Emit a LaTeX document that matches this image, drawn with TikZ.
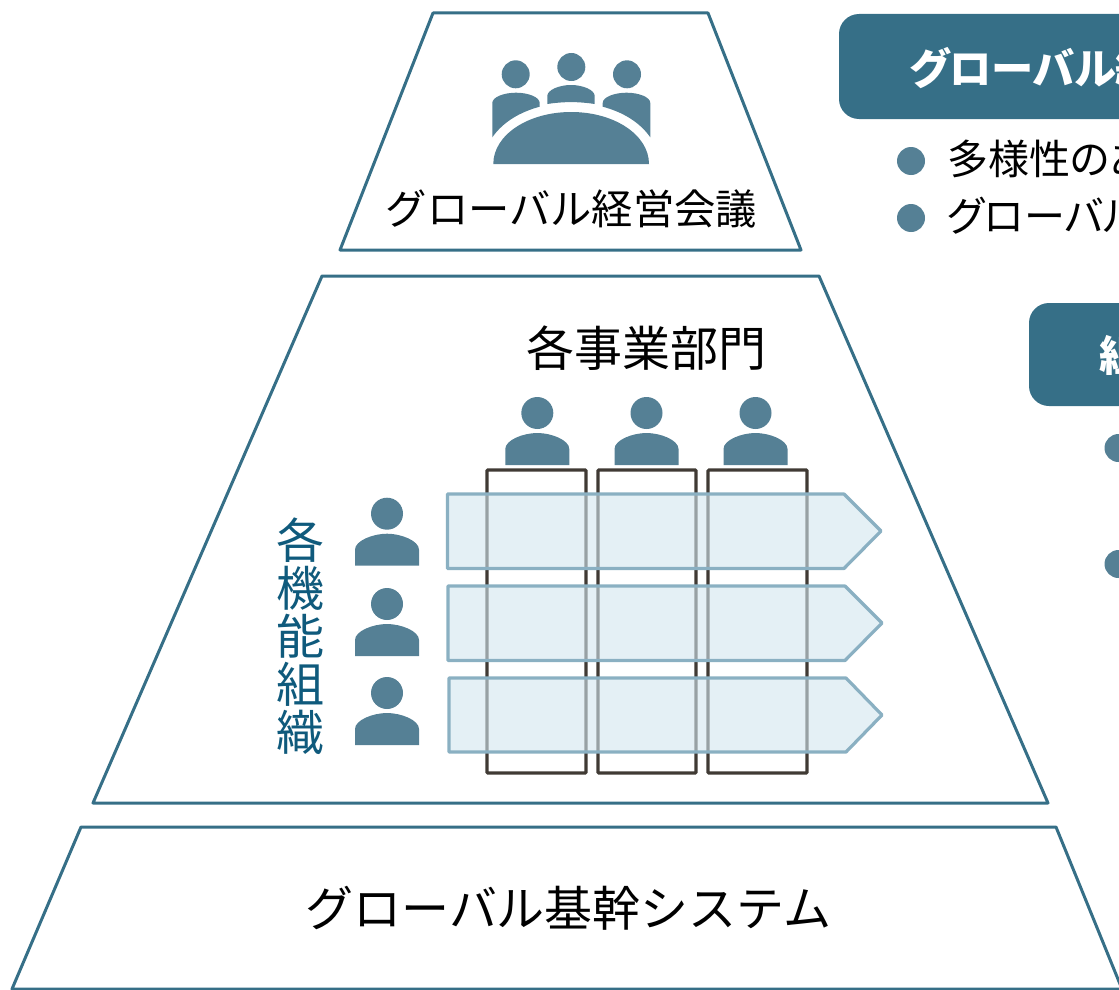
\documentclass[tikz,border=0pt]{standalone}
\usepackage{fontspec}
\setmainfont{Noto Sans CJK JP}
\newfontfamily\paltfont[RawFeature=+palt]{Noto Sans CJK JP}
\usetikzlibrary{calc}
\usetikzlibrary{positioning}
\definecolor{tealline}{HTML}{366F87}
\definecolor{tealicon}{HTML}{558095}
\definecolor{barline}{HTML}{403A34}
\definecolor{arrowline}{HTML}{8AB0C2}
\definecolor{arrowfill}{HTML}{D2E6EF}
\definecolor{sidetext}{HTML}{0F5A7C}
\tikzstyle{tierline} = [draw=tealline, line width=3pt, line join=round]
\tikzstyle{headbox} = [fill=tealline, rounded corners=20pt]
\tikzstyle{deptbar} = [draw=barline, line width=3.2pt, rounded corners=1pt]
\tikzstyle{funcarrow} = [draw=arrowline, line width=3.2pt, line join=round, fill=arrowfill, fill opacity=0.6]
\tikzstyle{bulletdot} = [fill=tealicon]
\tikzstyle{bigtext} = [font=\fontsize{48}{48}\selectfont, inner sep=0pt]
\tikzstyle{tiertext} = [font=\fontsize{41.3}{42}\selectfont, inner sep=0pt]
\tikzstyle{bodytext} = [font=\fontsize{41}{41}\paltfont, inner sep=0pt, anchor=west]
\tikzstyle{headtext} = [font=\fontsize{42.3}{44}\paltfont\bfseries, text=white, inner sep=0pt, anchor=west]
\tikzset{person/.pic={
    \fill[tealicon] (0,0) circle (16pt);
    \fill[tealicon] (-32,52) -- (-32,36) .. controls (-32,27) and (-14,20) .. (0,20)
        .. controls (14,20) and (32,27) .. (32,36) -- (32,52) -- cycle;
}}
\begin{document}
\begin{tikzpicture}[x=1pt, y=-1pt]
\useasboundingbox (0,0) rectangle (1119,990);
\clip (0,0) rectangle (1119,990);

% tiers
\draw[tierline] (433,13) -- (708,13) -- (801,250) -- (340,250) -- cycle;
\draw[tierline] (322,276) -- (819,276) -- (1048,803) -- (93,803) -- cycle;
\draw[tierline] (81,827) -- (1056,827) -- (1122,989) -- (12,989) -- cycle;
\node[tiertext] (board) at (571.5,209) {グローバル経営会議};
\node[bigtext] (dept) at (646,348) {各事業部門};
\node[bigtext] (base) at (568.5,908) {グローバル基幹システム};
\node[bigtext, text=sidetext, align=center] (func) at (300.5,636) {各\\機\\能\\組\\織};

% meeting icon
\fill[tealicon] (515.7,74.3) circle (14pt);
\fill[tealicon] (571.3,67) circle (14pt);
\fill[tealicon] (627,74.3) circle (14pt);
\fill[tealicon] (492.3,137.3) -- (492.3,103) .. controls (492.3,97) and (504,92.7) .. (516,92.7)
    .. controls (528,92.7) and (539.7,97) .. (539.7,103) -- (539.7,106.7)
    .. controls (520,112) and (503,122) .. (492.3,137.3) -- cycle;
\fill[tealicon] (650.3,137.3) -- (650.3,103) .. controls (650.3,97) and (638.6,92.7) .. (626.6,92.7)
    .. controls (614.6,92.7) and (602.7,97) .. (602.7,103) -- (602.7,106.7)
    .. controls (622.6,112) and (639.6,122) .. (650.3,137.3) -- cycle;
\fill[tealicon] (547.3,104) -- (547.3,96) .. controls (547.3,90) and (559,85) .. (571,85)
    .. controls (583,85) and (594.7,90) .. (594.7,96) -- (594.7,104)
    .. controls (579,101.5) and (563,101.5) .. (547.3,104) -- cycle;
\fill[tealicon] (493.3,164) .. controls (493.3,135) and (528,112) .. (571.2,112)
    .. controls (614.4,112) and (649,135) .. (649,164) -- cycle;

% people
\pic at (537.3,413) {person};
\pic at (646.5,413) {person};
\pic at (755.5,413) {person};
\pic at (387,513.7) {person};
\pic at (387,604) {person};
\pic at (387,693) {person};

% departments and functions
\draw[deptbar] (487,470) rectangle (586,773);
\draw[deptbar] (598,470) rectangle (696,773);
\draw[deptbar] (708,470) rectangle (807,773);
\draw[funcarrow] (447.5,494) -- (844,494) -- (881,531) -- (844,568.5) -- (447.5,568.5) -- cycle;
\draw[funcarrow] (448,586) -- (845,586) -- (882,623) -- (845,660.5) -- (448,660.5) -- cycle;
\draw[funcarrow] (449,678) -- (846,678) -- (882,715) -- (846,752) -- (449,752) -- cycle;

% right column
\fill[headbox] (839,14) rectangle (1180,119);
\node[headtext] (headA) at (909,68) {グローバル経};
\fill[bulletdot] (911,161) circle (14pt);
\fill[bulletdot] (911,218) circle (14pt);
\node[bodytext] (lineA) at (947,159) {多様性のあ};
\node[bodytext] (lineB) at (947,216) {グローバル経};
\fill[headbox] (1029,303) rectangle (1180,406);
\node[headtext] (headB) at (1099,355) {組};
\fill[bulletdot] (1118.5,448) circle (14pt);
\fill[bulletdot] (1118.5,564) circle (14pt);
\end{tikzpicture}
\end{document}
